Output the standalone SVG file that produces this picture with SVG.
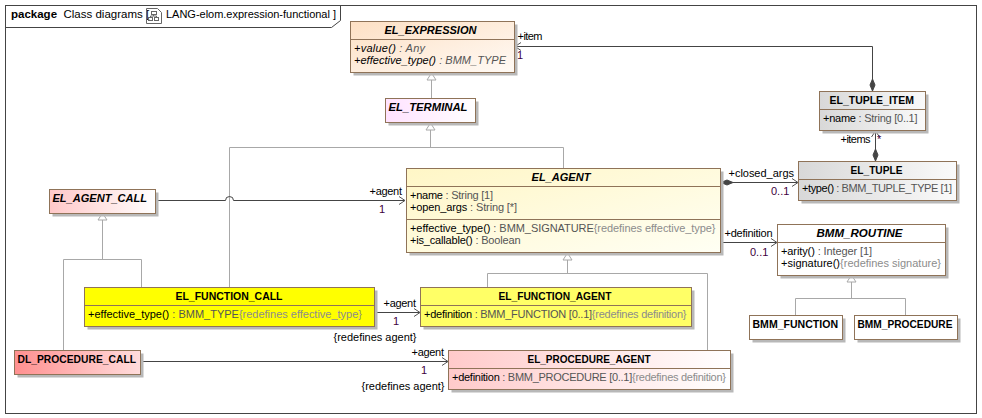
<svg xmlns="http://www.w3.org/2000/svg" width="982" height="418" viewBox="0 0 982 418">
<style>
text{font-family:"Liberation Sans",Arial,sans-serif;font-size:11px;fill:#000}
.box{stroke:#8f7358;stroke-width:1}
.shadow{fill:#b8b8b8}
.div{stroke:#8f7358;stroke-width:1;fill:none}
.title{font-weight:bold;font-size:11px}
.ab{font-style:italic}
.t{fill:#555}
.r{fill:#8c8c8c}
.m{fill:#400040}
.gen{fill:none;stroke:#a8a8a8;stroke-width:1}
.tri{fill:#fff;stroke:#a8a8a8;stroke-width:1}
.as{fill:none;stroke:#444;stroke-width:1}
.open{fill:none;stroke:#555;stroke-width:1}
.dia{fill:#444;stroke:#444;stroke-width:1}
.frame{fill:none;stroke:#444;stroke-width:1}
</style>
<defs>
<linearGradient id="gExpr" x1="0" y1="0" x2="1" y2="1"><stop offset="0" stop-color="#fde0c4"/><stop offset="1" stop-color="#fffaf5"/></linearGradient>
<linearGradient id="gTerm" x1="0" y1="0" x2="1" y2="0"><stop offset="0" stop-color="#ffe2ff"/><stop offset="1" stop-color="#fff"/></linearGradient>
<linearGradient id="gAgent" x1="0" y1="0" x2="1" y2="1"><stop offset="0" stop-color="#fff6c6"/><stop offset="1" stop-color="#fffff4"/></linearGradient>
<linearGradient id="gGrey" x1="0" y1="0" x2="1" y2="0"><stop offset="0" stop-color="#d8d8d8"/><stop offset="1" stop-color="#fafafa"/></linearGradient>
<linearGradient id="gCall" x1="0" y1="0" x2="1" y2="0"><stop offset="0" stop-color="#ffc8c8"/><stop offset="1" stop-color="#fff"/></linearGradient>
<linearGradient id="gProcAgent" x1="0" y1="0" x2="1" y2="0"><stop offset="0" stop-color="#ffcaca"/><stop offset="1" stop-color="#fff"/></linearGradient>
<linearGradient id="gDl" x1="0" y1="0" x2="1" y2="0"><stop offset="0" stop-color="#ff9090"/><stop offset="1" stop-color="#ffdcdc"/></linearGradient>
</defs>
<rect width="982" height="418" fill="#fff"/>

<g id="frame">
<rect class="frame" x="5.5" y="5.5" width="971" height="408"/>
<path class="frame" d="M5.5 27.5H331.5L340.5 20.5V5.5"/>
<text x="11" y="18" style="font-weight:bold;font-size:11.5px">package</text>
<text x="63.5" y="18" style="font-size:11.5px">Class diagrams [</text>
<g fill="none" stroke="#666">
<path d="M146.5 8.5V23.5H161.5V12.5L157.5 8.5Z"/>
<rect x="151.5" y="11.5" width="5" height="3"/><rect x="148.5" y="17.5" width="4" height="3"/><rect x="154.5" y="17.5" width="4" height="3"/>
<path d="M153.5 14.5V16M150.5 17.5V16H156.5V17.5"/>
</g>
<text x="166" y="18" textLength="170" style="font-size:11px">LANG-elom.expression-functional ]</text>
</g>

<g id="connectors">
<path class="gen" d="M431.5 98V80"/><path class="tri" d="M431.5 73L436 80H427Z"/>
<path class="gen" d="M430.5 130V147.5M229.5 287V147.5H563.5V168"/><path class="tri" d="M430.5 123L435 130H426Z"/>
<path class="gen" d="M102.5 220V259.5M63.5 350V259.5H141.5V287"/><path class="tri" d="M102.5 213L107 220H98Z"/>
<path class="gen" d="M567.5 260V273.5M487.5 287V273.5H707.5V350"/><path class="tri" d="M567.5 253L572 260H563Z"/>
<path class="gen" d="M851.5 282V298.5M795.5 315V298.5H905.5V315"/><path class="tri" d="M851.5 275L856 282H847Z"/>
<path class="as" d="M156 200.5H225.5A4 4 0 0 1 233.5 200.5H405"/><path class="open" d="M399 196.5L405 200.5L399 204.5"/>
<path class="as" d="M375 312.5H420"/><path class="open" d="M414 308.5L420 312.5L414 316.5"/>
<path class="as" d="M141 361.5H448"/><path class="open" d="M442 357.5L448 361.5L442 365.5"/>
<path class="as" d="M721 242.5H777"/><path class="open" d="M771 238.5L777 242.5L771 246.5"/>
<path class="as" d="M733 182.5H798"/><path class="open" d="M792 178.5L798 182.5L792 186.5"/><path class="dia" d="M721 182.5L727 180L733 182.5L727 185Z"/>
<path class="as" d="M872.5 79V46.5H515"/><path class="open" d="M521 42.5L515 46.5L521 50.5"/><path class="dia" d="M872.5 91L870 85L872.5 79L875 85Z"/>
<path class="as" d="M875.5 149V131"/><path class="open" d="M871.5 137L875.5 131L879.5 137"/><path class="dia" d="M875.5 161L873 155L875.5 149L878 155Z"/>
<text x="517.5" y="40" textLength="25">+item</text><text x="517" y="59" class="m">1</text>
<text x="369.5" y="195" textLength="32.5">+agent</text><text x="379" y="213" class="m">1</text>
<text x="383.5" y="307" textLength="32.5">+agent</text><text x="393" y="325" class="m">1</text>
<text x="333.5" y="341" textLength="83">{redefines agent}</text>
<text x="411.5" y="356" textLength="32.5">+agent</text><text x="421" y="374" class="m">1</text>
<text x="361.5" y="390" textLength="83">{redefines agent}</text>
<text x="728.5" y="177" textLength="65.5">+closed_args</text><text x="771" y="195" class="m">0..1</text>
<text x="724.5" y="237" textLength="48">+definition</text><text x="750" y="256" class="m">0..1</text>
<text x="840.5" y="143" textLength="30">+items</text><text x="877" y="143" class="m">*</text>
</g>

<g id="EL_EXPRESSION">
<rect class="shadow" x="353.5" y="24.5" width="164" height="51"/>
<rect class="box" x="350.5" y="21.5" width="164" height="51" fill="url(#gExpr)"/>
<path class="div" d="M350.5 39.5H514.5"/>
<text class="title ab" x="384.5" y="34" textLength="92" lengthAdjust="spacingAndGlyphs">EL_EXPRESSION</text>
<text class="ab" x="354" y="52" textLength="71">+value()  <tspan class="t">: Any</tspan></text>
<text class="ab" x="354" y="64" textLength="152">+effective_type()  <tspan class="t">: BMM_TYPE</tspan></text>
</g>
<g id="EL_TERMINAL">
<rect class="shadow" x="388.5" y="101.5" width="90" height="24"/>
<rect class="box" x="385.5" y="98.5" width="90" height="24" fill="url(#gTerm)"/>
<text class="title ab" x="388.5" y="111" textLength="79" lengthAdjust="spacingAndGlyphs">EL_TERMINAL</text>
</g>
<g id="EL_AGENT">
<rect class="shadow" x="409.5" y="171.5" width="314" height="84"/>
<rect class="box" x="406.5" y="168.5" width="314" height="84" fill="url(#gAgent)"/>
<path class="div" d="M406.5 186.5H720.5M406.5 219.5H720.5"/>
<text class="title ab" x="531.5" y="181" textLength="59" lengthAdjust="spacingAndGlyphs">EL_AGENT</text>
<text x="410" y="199" textLength="83">+name <tspan class="t">: String [1]</tspan></text>
<text x="410" y="211" textLength="107">+open_args <tspan class="t">: String [*]</tspan></text>
<text x="410" y="232" textLength="305.5">+effective_type() <tspan class="t">: BMM_SIGNATURE</tspan><tspan class="r">{redefines effective_type}</tspan></text>
<text x="410" y="244" textLength="110.5">+is_callable() <tspan class="t">: Boolean</tspan></text>
</g>
<g id="EL_TUPLE_ITEM">
<rect class="shadow" x="822.5" y="94.5" width="106" height="39"/>
<rect class="box" x="819.5" y="91.5" width="106" height="39" fill="url(#gGrey)"/>
<path class="div" d="M819.5 109.5H925.5"/>
<text class="title" x="829.5" y="104" textLength="84.5" lengthAdjust="spacingAndGlyphs">EL_TUPLE_ITEM</text>
<text x="823" y="122" textLength="94.5">+name <tspan class="t">: String [0..1]</tspan></text>
</g>
<g id="EL_TUPLE">
<rect class="shadow" x="801.5" y="164.5" width="158" height="39"/>
<rect class="box" x="798.5" y="161.5" width="158" height="39" fill="url(#gGrey)"/>
<path class="div" d="M798.5 179.5H956.5"/>
<text class="title" x="850.5" y="174" textLength="52" lengthAdjust="spacingAndGlyphs">EL_TUPLE</text>
<text x="802" y="192" textLength="150">+type() <tspan class="t">: BMM_TUPLE_TYPE [1]</tspan></text>
</g>
<g id="BMM_ROUTINE">
<rect class="shadow" x="780.5" y="227.5" width="168" height="51"/>
<rect class="box" x="777.5" y="224.5" width="168" height="51" fill="#fff"/>
<path class="div" d="M777.5 242.5H945.5"/>
<text class="title ab" x="816.5" y="237" textLength="86" lengthAdjust="spacingAndGlyphs">BMM_ROUTINE</text>
<text x="781" y="255" textLength="91">+arity() <tspan class="t">: Integer [1]</tspan></text>
<text x="781" y="267" textLength="160">+signature()<tspan class="r">{redefines signature}</tspan></text>
</g>
<g id="BMM_FUNCTION">
<rect class="shadow" x="752.5" y="318.5" width="93" height="24"/>
<rect class="box" x="749.5" y="315.5" width="93" height="24" fill="#fff"/>
<text class="title" x="752.5" y="328" textLength="85.5" lengthAdjust="spacingAndGlyphs">BMM_FUNCTION</text>
</g>
<g id="BMM_PROCEDURE">
<rect class="shadow" x="857.5" y="318.5" width="103" height="24"/>
<rect class="box" x="854.5" y="315.5" width="103" height="24" fill="#fff"/>
<text class="title" x="857.5" y="328" textLength="95" lengthAdjust="spacingAndGlyphs">BMM_PROCEDURE</text>
</g>
<g id="EL_AGENT_CALL">
<rect class="shadow" x="52.5" y="192.5" width="106" height="24"/>
<rect class="box" x="49.5" y="189.5" width="106" height="24" fill="url(#gCall)"/>
<text class="title ab" x="52.5" y="202" textLength="94.5" lengthAdjust="spacingAndGlyphs">EL_AGENT_CALL</text>
</g>
<g id="EL_FUNCTION_CALL">
<rect class="shadow" x="87.5" y="290.5" width="290" height="39"/>
<rect class="box" x="84.5" y="287.5" width="290" height="39" fill="#ff0"/>
<path class="div" d="M84.5 305.5H374.5"/>
<text class="title" x="175.5" y="300" textLength="107" lengthAdjust="spacingAndGlyphs">EL_FUNCTION_CALL</text>
<text x="88" y="318" textLength="274">+effective_type() <tspan class="t">: BMM_TYPE</tspan><tspan class="r">{redefines effective_type}</tspan></text>
</g>
<g id="EL_FUNCTION_AGENT">
<rect class="shadow" x="423.5" y="290.5" width="271" height="39"/>
<rect class="box" x="420.5" y="287.5" width="271" height="39" fill="#ff6"/>
<path class="div" d="M420.5 305.5H691.5"/>
<text class="title" x="498.5" y="300" textLength="113" lengthAdjust="spacingAndGlyphs">EL_FUNCTION_AGENT</text>
<text x="424" y="318" textLength="262.5">+definition <tspan class="t">: BMM_FUNCTION [0..1]</tspan><tspan class="r">{redefines definition}</tspan></text>
</g>
<g id="EL_PROCEDURE_AGENT">
<rect class="shadow" x="451.5" y="353.5" width="282" height="39"/>
<rect class="box" x="448.5" y="350.5" width="282" height="39" fill="url(#gProcAgent)"/>
<path class="div" d="M448.5 368.5H730.5"/>
<text class="title" x="527.5" y="363" textLength="123" lengthAdjust="spacingAndGlyphs">EL_PROCEDURE_AGENT</text>
<text x="452" y="381" textLength="274">+definition <tspan class="t">: BMM_PROCEDURE [0..1]</tspan><tspan class="r">{redefines definition}</tspan></text>
</g>
<g id="DL_PROCEDURE_CALL">
<rect class="shadow" x="17.5" y="353.5" width="126" height="24"/>
<rect class="box" x="14.5" y="350.5" width="126" height="24" fill="url(#gDl)"/>
<text class="title" x="17.5" y="363" textLength="118.5" lengthAdjust="spacingAndGlyphs">DL_PROCEDURE_CALL</text>
</g>
</svg>
